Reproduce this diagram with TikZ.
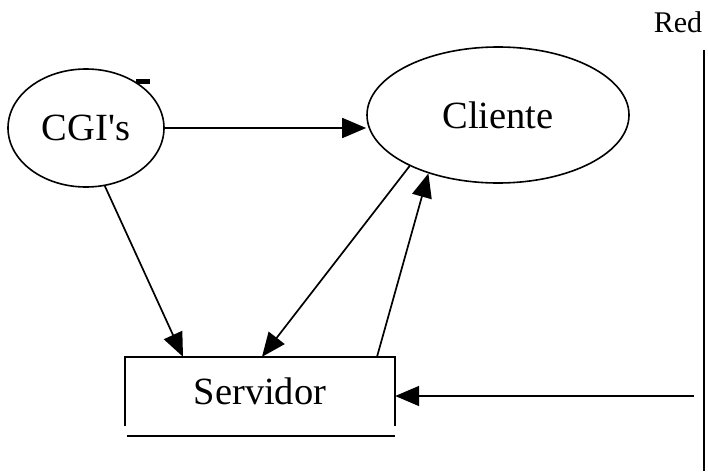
\documentclass[tikz,border=0pt]{standalone}
\usepackage{fontspec}
\setmainfont{Liberation Serif}
\usetikzlibrary{shapes.geometric,arrows.meta}

\tikzset{
  blob/.style={draw, ellipse, line width=1.6pt, inner sep=0pt},
  arr/.style={-{Triangle[length=24pt,width=20pt]}, line width=1.7pt},
  nodetext/.style={font=\fontsize{38.5}{40}\selectfont}
}

\begin{document}
\begin{tikzpicture}[x=1pt,y=-1pt]
        \useasboundingbox (0,0) rectangle (708,471);

        % Nodes
        \node[blob, nodetext, minimum width=156pt, minimum height=118pt] (cgi) at (86,128) {CGI\textquotesingle s};
        \node[blob, nodetext, minimum width=262pt, minimum height=136pt] (cliente) at (498,115) {Cliente};
        \node[nodetext, minimum width=270pt, minimum height=69pt, inner sep=0pt] (servidor) at (260,391.5) {Servidor};
        \node[font=\fontsize{30}{32}\selectfont] (red) at (678,22) {Red};

        % Servidor box
        \draw[line width=1.7pt] (servidor.south west) -- (servidor.north west) -- (servidor.north east) -- (servidor.south east);
        \draw[line width=1.7pt] ([xshift=2pt,yshift=-10pt]servidor.south west) -- ([yshift=-10pt]servidor.south east);
        \fill (136,79) rectangle (150,84);

        % Red
        \coordinate (redtop) at (704,50);
        \coordinate (redbot) at (704,471);
        \coordinate (redin) at (694,396);
        \draw[line width=2pt] (redtop) -- (redbot);

        % Arrows
        \draw[arr] (cgi.east) -- (cgi.east -| cliente.west);
        \draw[arr] (cgi.-72) -- ([xshift=-77pt]servidor.north);
        \draw[arr] (cliente.210) -- ([xshift=2pt]servidor.north);
        \draw[arr] ([xshift=117pt]servidor.north) -- (cliente.220);
        \draw[arr] (redin) -- (redin -| servidor.east);
    \end{tikzpicture}
\end{document}
